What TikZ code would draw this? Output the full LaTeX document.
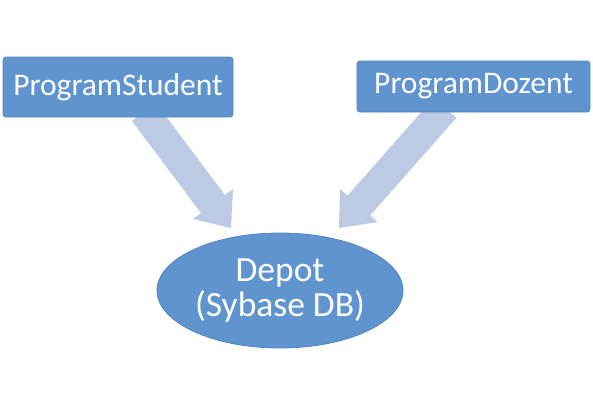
\documentclass[tikz,border=0pt]{standalone}
\usepackage{fontspec}
\setmainfont{Carlito}
\usetikzlibrary{calc,shapes.geometric}
\definecolor{boxblue}{HTML}{6094CE}
\definecolor{boxline}{HTML}{5585BE}
\definecolor{arrowblue}{HTML}{BCCAE3}
\tikzset{
  progbox/.style={draw=boxline, line width=0.8pt, fill=boxblue, rounded corners=3pt,
    text=white, font=\fontsize{31.5}{36}\selectfont, inner sep=0pt},
  dbell/.style={ellipse, draw=boxline, line width=0.8pt, fill=boxblue, text=white,
    font=\fontsize{35.5}{35}\selectfont, align=center, inner sep=0pt},
  fatarrow/.style={fill=arrowblue, draw=none}
}
\newcommand{\fatarrowpath}[2]{%
  \fill[fatarrow]
    ($(#1)!15pt!90:(#2)$) --
    ($($(#2)!30pt!(#1)$)!15pt!-90:(#1)$) --
    ($($(#2)!30pt!(#1)$)!25pt!-90:(#1)$) --
    (#2) --
    ($($(#2)!30pt!(#1)$)!25pt!90:(#1)$) --
    ($($(#2)!30pt!(#1)$)!15pt!90:(#1)$) --
    ($(#1)!15pt!-90:(#2)$) -- cycle;}
\begin{document}
\begin{tikzpicture}[x=1pt,y=-1pt]
\useasboundingbox (0,0) rectangle (593,400);
\coordinate (lstart) at (144,112);
\coordinate (ltip) at (231,228);
\coordinate (rstart) at (445,108);
\coordinate (rtip) at (339,228);
\fatarrowpath{lstart}{ltip}
\fatarrowpath{rstart}{rtip}
\node[progbox, minimum width=230pt, minimum height=60pt] (ps) at (118,87) {ProgramStudent};
\node[progbox, minimum width=233pt, minimum height=51pt] (pd) at (473.5,86.5) {ProgramDozent};
\node[dbell, minimum width=246pt, minimum height=115pt] (db) at (280,290.5) {Depot\\(Sybase DB)};
\end{tikzpicture}
\end{document}
